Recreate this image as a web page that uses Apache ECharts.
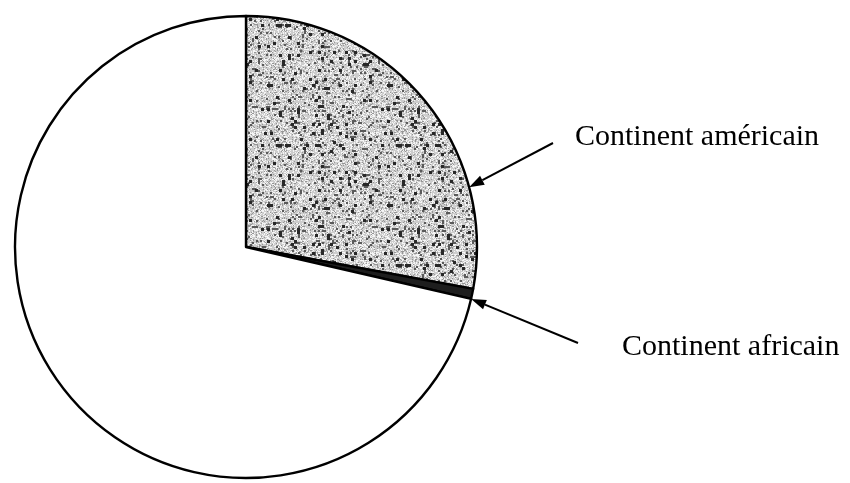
<!DOCTYPE html>
<html><head><meta charset="utf-8">
<script src="https://cdn.jsdelivr.net/npm/echarts@6/dist/echarts.min.js"></script>
<style>html,body{margin:0;padding:0;background:#fff}#c{width:850px;height:483px}</style>
</head><body><div id="c"></div>
<script>
// ---- data ----
const categories = ['Continent américain', 'Continent africain', 'Reste du monde'];
const values = [27.9, 0.7, 71.4];
const labelled = ['Continent américain', 'Continent africain'];

// ---- layout / style ----
const CX = 246, CY = 247, R = 231;

// speckled grey texture (deterministic hash, style only)
function makeTexture() {
  const size = 120;
  const cv = document.createElement('canvas');
  cv.width = size; cv.height = size;
  const ctx = cv.getContext('2d');
  const img = ctx.createImageData(size, size);
  function h(x, y) { const s = Math.sin(x * 12.9898 + y * 78.233) * 43758.5453; return s - Math.floor(s); }
  for (let y = 0; y < size; y++) {
    for (let x = 0; x < size; x++) {
      const a = h(x, y);
      const b = h(Math.floor(x / 3), Math.floor(y / 3) + 50);
      const c = h(Math.floor(x / 2) + 7, Math.floor(y / 2) + 91);
      let v = 205;
      if (a < 0.3) v = 245;
      else if (a > 0.85) v = 150;
      if (c > 0.9) v = 90;
      if (b > 0.93) v = 40;
      const i = (y * size + x) * 4;
      img.data[i] = img.data[i + 1] = img.data[i + 2] = v; img.data[i + 3] = 255;
    }
  }
  ctx.putImageData(img, 0, 0);
  return cv;
}
const texture = makeTexture();
const fills = [{ image: texture, repeat: 'repeat' }, '#1e1e1e', '#ffffff'];

const chart = echarts.init(document.getElementById('c'), null, { renderer: 'canvas' });

// annotation placement (text anchor + arrow target angle measured clockwise from 12 o'clock)
const annot = [
  { text: labelled[0], tx: 575, ty: 137, from: [553, 143], angle: 75 },
  { text: labelled[1], tx: 622, ty: 347, from: [578, 343], angle: 103 }
];

const graphics = [];
annot.forEach(a => {
  const rad = a.angle * Math.PI / 180;
  const tip = [CX + R * Math.sin(rad), CY - R * Math.cos(rad)];
  const dx = a.from[0] - tip[0], dy = a.from[1] - tip[1];
  const L = Math.hypot(dx, dy), ux = dx / L, uy = dy / L;
  const hl = 15, hw = 5;
  const base = [tip[0] + ux * hl, tip[1] + uy * hl];
  graphics.push({
    type: 'line', z: 100,
    shape: { x1: a.from[0], y1: a.from[1], x2: base[0], y2: base[1] },
    style: { stroke: '#000', lineWidth: 2 }
  });
  graphics.push({
    type: 'polygon', z: 100,
    shape: { points: [tip, [base[0] - uy * hw, base[1] + ux * hw], [base[0] + uy * hw, base[1] - ux * hw]] },
    style: { fill: '#000' }
  });
  graphics.push({
    type: 'text', z: 100, x: a.tx, y: a.ty,
    style: { text: a.text, font: '30px "Liberation Serif", "Times New Roman", serif', fill: '#000', verticalAlign: 'middle', align: 'left' }
  });
});

chart.setOption({
  animation: false,
  backgroundColor: '#fff',
  graphic: graphics,
  series: [{
    type: 'pie',
    center: [CX, CY],
    radius: R,
    startAngle: 90,
    clockwise: true,
    silent: true,
    label: { show: false },
    labelLine: { show: false },
    emphasis: { disabled: true },
    data: categories.map((c, i) => ({
      name: c, value: values[i],
      itemStyle: { color: fills[i], borderColor: '#000', borderWidth: 2.4 }
    }))
  }]
});
</script></body></html>
